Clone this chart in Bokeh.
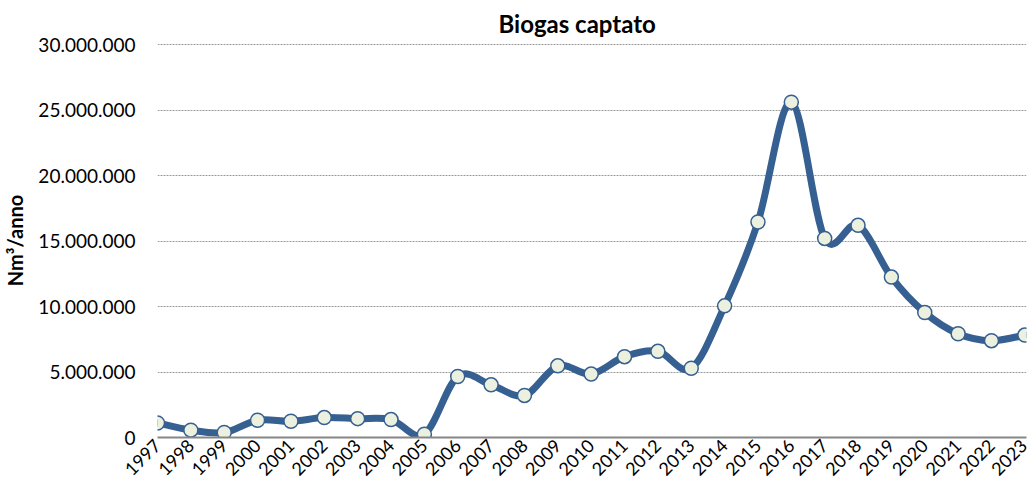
import math
from bokeh.plotting import figure
from bokeh.models import FixedTicker, ColumnDataSource
from bokeh.embed import file_html
from bokeh.resources import INLINE

years = list(range(1997, 2024))
values = [1110000, 560000, 380000, 1320000, 1240000, 1520000, 1440000, 1370000, 250000,
          4660000, 4020000, 3210000, 5470000, 4840000, 6170000, 6580000, 5290000,
          10050000, 16450000, 25600000, 15200000, 16200000, 12250000, 9540000,
          7920000, 7390000, 7820000]
y_ticks = [0, 5000000, 10000000, 15000000, 20000000, 25000000, 30000000]

FONT = "Lato"
LINE_COLOR = "#376092"

p = figure(width=1028, height=487, output_backend="svg", toolbar_location=None,
           x_range=(1997, 2023.05), y_range=(0, 30080000),
           min_border_left=151, min_border_right=2, min_border_top=36, min_border_bottom=50)
p.outline_line_color = None

p.title.text = "Biogas captato"
p.title.align = "left"
p.title.text_font = FONT
p.title.text_font_size = "24px"
p.title.text_font_style = "bold"
p.title.text_color = "#000000"
p.title.offset = 341
p.title.standoff = 12

# smoothed line (Catmull-Rom style bezier segments computed from the data)
x0, y0, x1, y1, cx0, cy0, cx1, cy1 = [], [], [], [], [], [], [], []
n = len(years)
for i in range(n - 1):
    pa = (years[max(i - 1, 0)], values[max(i - 1, 0)])
    pb = (years[i], values[i])
    pc = (years[i + 1], values[i + 1])
    pd = (years[min(i + 2, n - 1)], values[min(i + 2, n - 1)])
    x0.append(pb[0]); y0.append(pb[1])
    x1.append(pc[0]); y1.append(pc[1])
    cx0.append(pb[0] + (pc[0] - pa[0]) / 6); cy0.append(pb[1] + (pc[1] - pa[1]) / 6)
    cx1.append(pc[0] - (pd[0] - pb[0]) / 6); cy1.append(pc[1] - (pd[1] - pb[1]) / 6)
bsrc = ColumnDataSource(dict(x0=x0, y0=y0, x1=x1, y1=y1, cx0=cx0, cy0=cy0, cx1=cx1, cy1=cy1))
p.bezier("x0", "y0", "x1", "y1", "cx0", "cy0", "cx1", "cy1", source=bsrc,
         line_color=LINE_COLOR, line_width=7, line_cap="round")
p.scatter(years, values, size=14, fill_color="#EBF1DE", line_color=LINE_COLOR, line_width=1.5)

# axes
p.xaxis.ticker = FixedTicker(ticks=years)
p.xaxis.major_label_overrides = {y: str(y) for y in years}
p.xaxis.major_label_orientation = math.pi / 4
p.xaxis.major_label_text_font = FONT
p.xaxis.major_label_text_font_size = "18px"
p.xaxis.major_label_text_color = "#000000"
p.xaxis.major_tick_line_color = None
p.xaxis.major_tick_out = 0
p.xaxis.major_tick_in = 0
p.xaxis.minor_tick_line_color = None
p.xaxis.axis_line_color = "#868686"
p.xaxis.axis_line_width = 2
p.xaxis.major_label_standoff = 5

p.yaxis.ticker = FixedTicker(ticks=y_ticks)
p.yaxis.major_label_overrides = {v: f"{v:,}".replace(",", ".") for v in y_ticks}
p.yaxis.major_label_text_font = FONT
p.yaxis.major_label_text_font_size = "19px"
p.yaxis.major_label_text_color = "#000000"
p.yaxis.major_tick_line_color = None
p.yaxis.major_tick_out = 0
p.yaxis.major_tick_in = 0
p.yaxis.minor_tick_line_color = None
p.yaxis.axis_line_color = None
p.yaxis.major_label_standoff = 22
p.yaxis.axis_label = "Nm³/anno"
p.yaxis.axis_label_text_font = FONT
p.yaxis.axis_label_text_font_size = "20px"
p.yaxis.axis_label_text_font_style = "bold"
p.yaxis.axis_label_text_color = "#000000"
p.yaxis.axis_label_standoff = 8

p.xgrid.grid_line_color = None
p.ygrid.grid_line_color = "#9a9a9a"
p.ygrid.grid_line_width = 1
p.ygrid.grid_line_dash = "2 1"

open("out.html", "w").write(file_html(p, INLINE))
